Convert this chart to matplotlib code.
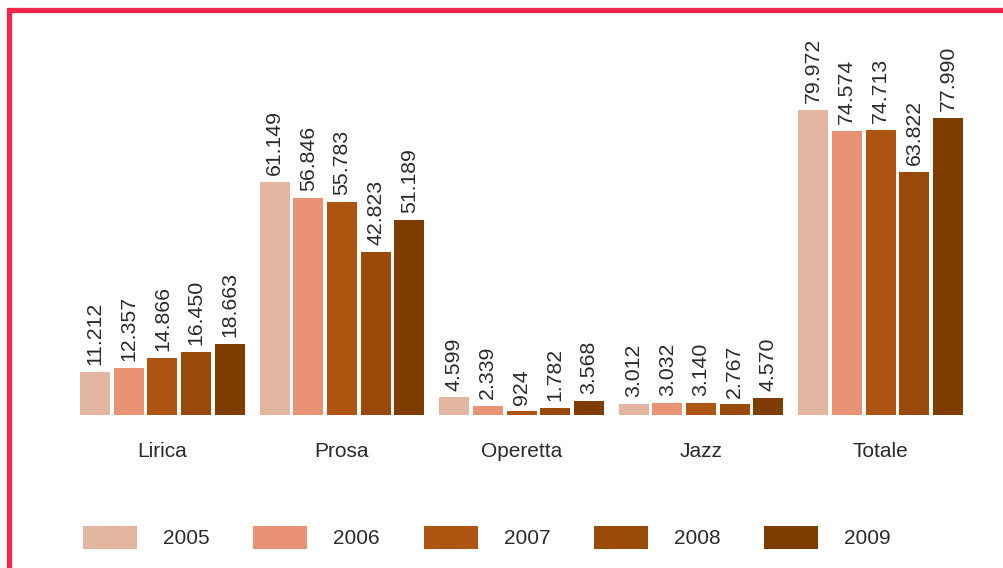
import matplotlib.pyplot as plt
from matplotlib.patches import Rectangle, Patch
import numpy as np

plt.rcParams['font.family'] = ['Liberation Sans', 'DejaVu Sans']

# data
categories = ['Lirica', 'Prosa', 'Operetta', 'Jazz', 'Totale']
years = ['2005', '2006', '2007', '2008', '2009']
values = {
    '2005': [11212, 61149, 4599, 3012, 79972],
    '2006': [12357, 56846, 2339, 3032, 74574],
    '2007': [14866, 55783, 924, 3140, 74713],
    '2008': [16450, 42823, 1782, 2767, 63822],
    '2009': [18663, 51189, 3568, 4570, 77990],
}
colors = ['#E2B5A0', '#EA9274', '#AE5511', '#9A4A08', '#803D00']

def fmt(v):
    return '{:,}'.format(v).replace(',', '.')

W, H = 1004, 568
fig = plt.figure(figsize=(W / 100, H / 100), dpi=100)

# axes placement (pixels)
base_px = 415
pitch_px = 179.5
first_center_px = 162.5
px_per_unit = 3.814 / 1000

ax = fig.add_axes([0, (H - base_px) / H, 1, (base_px - 12) / H])
ax.set_xlim(-first_center_px / pitch_px, (W - first_center_px) / pitch_px)
ax.set_ylim(0, (base_px - 12) / px_per_unit)
ax.axis('off')

x = np.arange(len(categories))
step = 33.7 / pitch_px
width = 30 / pitch_px
txt = '#2a2a2a'
for i, y in enumerate(years):
    pos = x + (i - 2) * step
    ax.bar(pos, values[y], width=width, color=colors[i])
    for p, v in zip(pos, values[y]):
        ax.annotate(fmt(v), (p, v), xytext=(0, 5), textcoords='offset points',
                    rotation=90, ha='center', va='bottom', fontsize=15.3,
                    color=txt)

for xi, c in zip(x, categories):
    ax.annotate(c, (xi, 0), xytext=(0, -36.5 * 0.72), textcoords='offset points',
                ha='center', va='center', fontsize=15, color=txt)

handles = [Patch(facecolor=c, edgecolor='none') for c in colors]
leg = fig.legend(handles, years, loc='center', ncol=5,
                 bbox_to_anchor=(487 / W, 30.5 / H), frameon=False,
                 fontsize=15, handlelength=2.59, handleheight=1.30,
                 handletextpad=1.25, columnspacing=2.10, borderpad=0)
for t in leg.get_texts():
    t.set_color(txt)

# red frame, cut off at right and bottom
fig.patches.append(Rectangle((9.3 / W, -0.2), 1.2, 1.2 - 9.5 / H,
                             transform=fig.transFigure, fill=False,
                             edgecolor='#F0264A', linewidth=3.8))

fig.savefig('out.png', dpi=100)
